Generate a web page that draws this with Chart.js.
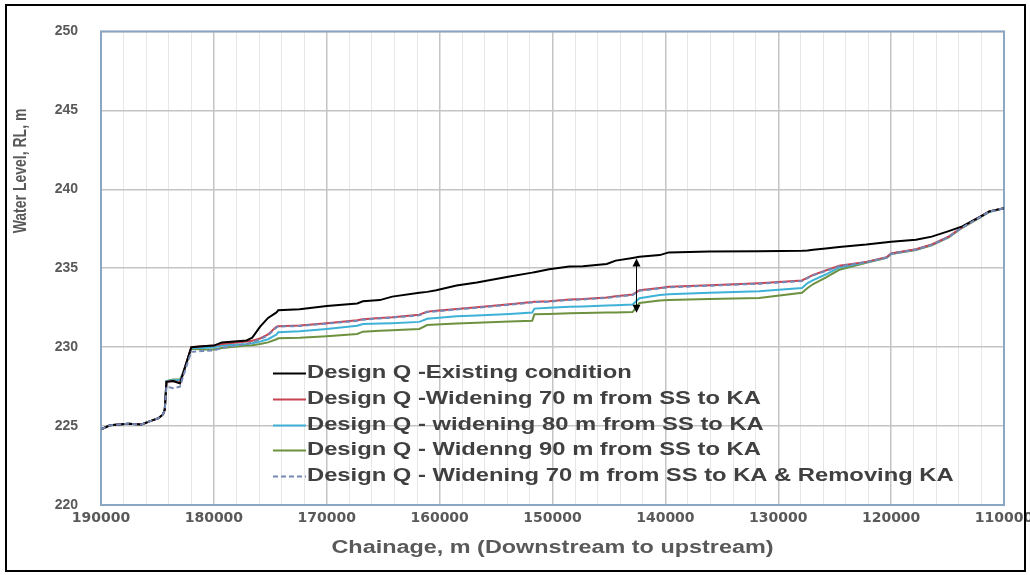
<!DOCTYPE html>
<html>
<head>
<meta charset="utf-8">
<script src="https://cdn.jsdelivr.net/npm/chart.js@4.4.1/dist/chart.umd.min.js"></script>
<style>
  html, body { margin: 0; padding: 0; background: #fff; }
  #wrap { position: relative; width: 1030px; height: 575px; }
</style>
</head>
<body>
<div id="wrap"><canvas id="c" width="1030" height="575"></canvas></div>
<script>
// Chainage stations (m), downstream (190000) to upstream (110000)
const chainage = [
  190000, 189200, 187600, 186400, 185700, 184900, 184500, 184350, 184200, 183600,
  183000, 182700, 182000, 181000, 180000,
  179300, 177100, 176600, 175900, 175200, 174450, 174300, 172400, 170000, 167300,
  166800, 165300, 164200, 161800, 161100, 160300, 158500, 156700, 153800, 151800,
  151600, 150300, 148500, 147300, 145200, 144400, 142900, 142300, 140500, 139700,
  136100, 131700, 127900, 127400, 126900, 125800, 124600, 122200, 120400, 120000,
  117800, 116400, 114900, 113700, 111900, 111300, 110000
];

// Water level (RL, m) for each scenario at the stations above
const existingCondition = [
  224.8, 225.05, 225.15, 225.1, 225.3, 225.5, 225.75, 226.05, 227.8, 227.85,
  227.7, 228.4, 230.0, 230.05, 230.1,
  230.3, 230.42, 230.6, 231.3, 231.85, 232.2, 232.33, 232.4, 232.6, 232.77,
  232.9, 232.98, 233.2, 233.45, 233.5, 233.6, 233.9, 234.1, 234.48, 234.72,
  234.75, 234.94, 235.1, 235.12, 235.27, 235.48, 235.65, 235.72, 235.83, 236.0,
  236.05, 236.08, 236.1, 236.12, 236.17, 236.25, 236.35, 236.5, 236.65, 236.67,
  236.8, 237.0, 237.35, 237.65, 238.35, 238.6, 238.8
];
const widening70 = [
  224.8, 225.05, 225.15, 225.1, 225.3, 225.5, 225.75, 226.05, 227.8, 227.85,
  227.75, 228.4, 230.0, 230.05, 230.1,
  230.2, 230.35, 230.4, 230.55, 230.8, 231.3, 231.33, 231.37, 231.52, 231.7,
  231.77, 231.85, 231.9, 232.05, 232.25, 232.3, 232.42, 232.52, 232.72, 232.86,
  232.88, 232.9, 233.02, 233.05, 233.15, 233.22, 233.33, 233.6, 233.75, 233.82,
  233.92, 234.05, 234.22, 234.4, 234.58, 234.85, 235.15, 235.4, 235.7, 235.94,
  236.2, 236.5, 237.0, 237.6, 238.35, 238.6, 238.8
];
const widening80 = [
  224.8, 225.05, 225.15, 225.1, 225.3, 225.5, 225.75, 226.05, 227.85, 227.9,
  227.9, 228.4, 229.95, 229.95, 230.0,
  230.1, 230.2, 230.25, 230.35, 230.5, 230.8, 230.94, 231.0, 231.15, 231.35,
  231.46, 231.5, 231.52, 231.6, 231.8, 231.85, 231.95, 232.0, 232.1, 232.19,
  232.44, 232.5, 232.56, 232.58, 232.63, 232.66, 232.7, 233.1, 233.3, 233.35,
  233.45, 233.54, 233.75, 234.06, 234.25, 234.6, 235.05, 235.38, 235.68, 235.92,
  236.18, 236.48, 236.98, 237.58, 238.33, 238.58, 238.8
];
const widening90 = [
  224.8, 225.05, 225.15, 225.1, 225.3, 225.5, 225.75, 226.05, 227.85, 227.95,
  227.95, 228.4, 229.9, 229.85, 229.85,
  229.95, 230.1, 230.12, 230.2, 230.3, 230.5, 230.56, 230.6, 230.69, 230.83,
  230.98, 231.04, 231.07, 231.15, 231.4, 231.43, 231.5, 231.55, 231.62, 231.67,
  232.08, 232.1, 232.15, 232.17, 232.19, 232.2, 232.22, 232.8, 232.95, 232.98,
  233.05, 233.12, 233.44, 233.75, 234.0, 234.4, 234.9, 235.35, 235.65, 235.9,
  236.15, 236.45, 236.96, 237.56, 238.3, 238.56, 238.8
];
const widening70RemovingKA = [
  224.8, 225.05, 225.15, 225.1, 225.3, 225.5, 225.75, 226.0, 227.5, 227.4,
  227.5, 228.2, 229.7, 229.75, 229.8,
  229.95, 230.2, 230.3, 230.5, 230.75, 231.25, 231.3, 231.34, 231.49, 231.67,
  231.74, 231.82, 231.87, 232.02, 232.22, 232.27, 232.39, 232.49, 232.69, 232.83,
  232.85, 232.87, 232.99, 233.02, 233.12, 233.19, 233.3, 233.57, 233.72, 233.79,
  233.89, 234.02, 234.19, 234.37, 234.55, 234.82, 235.12, 235.38, 235.68, 235.92,
  236.18, 236.48, 236.98, 237.58, 238.33, 238.58, 238.8
];

const seriesLabels = [
  'Design Q -Existing condition',
  'Design Q -Widening 70 m from SS to KA',
  'Design Q - widening 80 m from SS to KA',
  'Design Q - Widenng 90 m from SS to KA',
  'Design Q - Widening 70 m from SS to KA & Removing KA'
];

// Axis ranges and tick spacing
const xRange = [110000, 190000];
const xMajorStep = 10000;
const xMinorStep = 2000;
const yRange = [220, 250];
const yStep = 5;

// Double-headed arrow marking the level reduction
const arrowChainage = 142600;
const arrowTop = 235.62;
const arrowBottom = 232.18;

const toPoints = vals => chainage.map((c, i) => ({ x: c, y: vals[i] }));

const styles = [
  { color: '#000000', dash: [], order: 1 },
  { color: '#c8434f', dash: [], order: 2 },
  { color: '#3eb2d6', dash: [], order: 3 },
  { color: '#6e9140', dash: [], order: 4 },
  { color: '#7489b6', dash: [5, 3], order: 0 }
];
const seriesValues = [existingCondition, widening70, widening80, widening90, widening70RemovingKA];

const datasets = seriesValues.map((vals, i) => ({
  label: seriesLabels[i],
  data: toPoints(vals),
  borderColor: styles[i].color,
  borderDash: styles[i].dash,
  borderWidth: 2,
  pointRadius: 0,
  tension: 0,
  fill: false,
  order: styles[i].order
}));

function stretchedText(ctx, text, x, y, font, color, sx, align, rotate) {
  ctx.save();
  ctx.translate(x, y);
  ctx.scale(sx, 1);
  if (rotate) ctx.rotate(-Math.PI / 2);
  ctx.font = font;
  ctx.fillStyle = color;
  ctx.textAlign = align;
  ctx.textBaseline = 'middle';
  ctx.fillText(text, 0, 0);
  ctx.restore();
}

const decor = {
  id: 'decor',
  beforeDraw(chart) {
    const ctx = chart.ctx;
    ctx.save();
    ctx.fillStyle = '#ffffff';
    ctx.fillRect(0, 0, chart.width, chart.height);
    ctx.restore();
  },
  beforeDatasetsDraw(chart) {
    const { ctx, chartArea: a } = chart;
    ctx.save();
    ctx.strokeStyle = '#8aa6c0';
    ctx.lineWidth = 2;
    ctx.strokeRect(a.left, a.top, a.right - a.left, a.bottom - a.top);
    ctx.restore();
  },
  afterDraw(chart) {
    const { ctx, chartArea: a } = chart;
    const xs = chart.scales.x, ys = chart.scales.y;

    // arrow between existing and widened profiles
    const ax = Math.round(xs.getPixelForValue(arrowChainage)) + 0.5;
    const yT = ys.getPixelForValue(arrowTop);
    const yB = ys.getPixelForValue(arrowBottom);
    ctx.save();
    ctx.strokeStyle = '#000';
    ctx.fillStyle = '#000';
    ctx.lineWidth = 1;
    ctx.beginPath();
    ctx.moveTo(ax, yT + 6);
    ctx.lineTo(ax, yB - 6);
    ctx.stroke();
    ctx.beginPath();
    ctx.moveTo(ax, yT); ctx.lineTo(ax - 4, yT + 8); ctx.lineTo(ax + 4, yT + 8); ctx.closePath();
    ctx.fill();
    ctx.beginPath();
    ctx.moveTo(ax, yB); ctx.lineTo(ax - 4, yB - 8); ctx.lineTo(ax + 4, yB - 8); ctx.closePath();
    ctx.fill();
    ctx.restore();

    // legend inside the plot area
    const lx = 273, lw = 33, ty = 373, rowH = 25.8;
    chart.data.datasets.forEach((ds, i) => {
      const y = ty + i * rowH;
      ctx.save();
      ctx.strokeStyle = ds.borderColor;
      ctx.lineWidth = 2;
      ctx.setLineDash(ds.borderDash || []);
      ctx.beginPath();
      ctx.moveTo(lx, Math.round(y) + 0.5);
      ctx.lineTo(lx + lw, Math.round(y) + 0.5);
      ctx.stroke();
      ctx.restore();
      stretchedText(ctx, ds.label, lx + lw + 1, y, 'bold 18px "Liberation Sans", Arial, sans-serif', '#404040', 1.32, 'left', false);
    });

    // axis titles
    stretchedText(ctx, 'Chainage, m (Downstream to upstream)', (a.left + a.right) / 2, 548,
      'bold 18px "Liberation Sans", Arial, sans-serif', '#595959', 1.3, 'center', false);
    stretchedText(ctx, 'Water Level, RL, m', 21, 171,
      'bold 14px "Liberation Sans", Arial, sans-serif', '#595959', 1.35, 'center', true);

    // outer frame
    ctx.save();
    ctx.strokeStyle = '#000';
    ctx.lineWidth = 2;
    ctx.strokeRect(6, 5, 1019, 566);
    ctx.restore();
  }
};

new Chart(document.getElementById('c'), {
  type: 'line',
  data: { datasets },
  options: {
    responsive: false,
    devicePixelRatio: 1,
    animation: false,
    layout: { padding: { top: 25, right: 26, left: 0, bottom: 0 } },
    plugins: { legend: { display: false }, tooltip: { enabled: false }, title: { display: false } },
    scales: {
      x: {
        type: 'linear',
        reverse: true,
        min: xRange[0],
        max: xRange[1],
        afterFit(s) { s.height = 70; s.paddingLeft = 0; s.paddingRight = 0; },
        border: { display: false },
        grid: {
          drawTicks: false,
          color: c => (c.tick && c.tick.value % xMajorStep === 0) ? '#c4c4c4' : '#e6e6e6',
          lineWidth: c => (c.tick && c.tick.value % xMajorStep === 0) ? 1.5 : 1
        },
        ticks: {
          stepSize: xMinorStep,
          autoSkip: false,
          maxRotation: 0,
          minRotation: 0,
          padding: 5,
          color: '#595959',
          font: { family: '"DejaVu Sans", sans-serif', weight: 'bold', size: 14 },
          callback: v => (v % xMajorStep === 0) ? String(v) : ''
        }
      },
      y: {
        min: yRange[0],
        max: yRange[1],
        afterFit(s) { s.width = 101; },
        border: { display: false },
        grid: { drawTicks: false, color: '#c4c4c4', lineWidth: 1.5 },
        ticks: {
          stepSize: yStep,
          padding: 23,
          color: '#595959',
          font: { family: '"Liberation Sans", Arial, sans-serif', weight: 'bold', size: 14 }
        }
      }
    }
  },
  plugins: [decor]
});
</script>
</body>
</html>
